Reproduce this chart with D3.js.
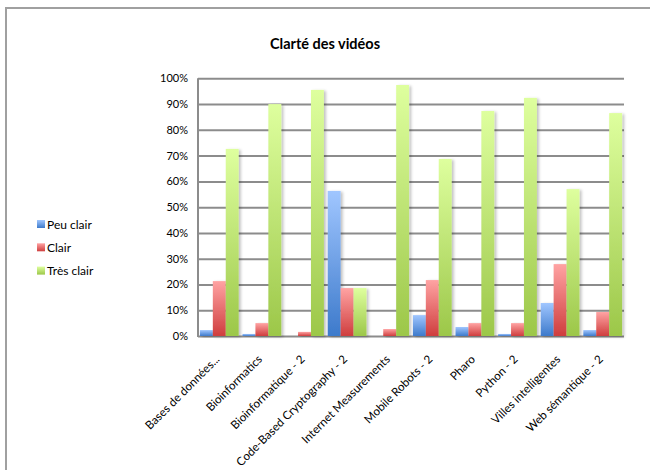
<!DOCTYPE html>
<html><head><meta charset="utf-8">
<script src="https://cdn.jsdelivr.net/npm/d3@7"></script>
<style>body{margin:0;background:#fff;} svg{display:block;font-family:Lato,"Open Sans",sans-serif;}</style>
</head><body><svg id="c" width="650" height="470"></svg>
<script>
const categories = ["Bases de données...","Bioinformatics","Bioinformatique - 2","Code-Based Cryptography - 2","Internet Measurements","Mobile Robots - 2","Pharo","Python - 2","Villes intelligentes","Web sémantique - 2"];
const seriesNames = ["Peu clair","Clair","Très clair"];
const peuClair = [2.3,0.8,0,56.3,0,8.1,3.5,0.8,12.8,2.3];
const clair = [21.3,5,1.6,18.6,2.7,21.7,5,5,27.9,9.3];
const tresClair = [72.6,90,95.5,18.6,97.4,68.7,87.3,92.4,57,86.5];
const yTicks = [0,10,20,30,40,50,60,70,80,90,100];
const seriesValues = [peuClair, clair, tresClair];
const gradStops = [["#a0c6ff","#3d7acb"],["#ffa3a3","#cf3e3e"],["#deff9e","#9cc749"]];

const svg = d3.select("#c");
const defs = svg.append("defs");
gradStops.forEach((g,i)=>{
  const lg = defs.append("linearGradient").attr("id","g"+i).attr("x1",0).attr("y1",0).attr("x2",0).attr("y2",1);
  lg.append("stop").attr("offset","0%").attr("stop-color",g[0]);
  lg.append("stop").attr("offset","100%").attr("stop-color",g[1]);
});
const shadow = defs.append("filter").attr("id","sh").attr("x","-50%").attr("y","-10%").attr("width","200%").attr("height","130%");
shadow.append("feGaussianBlur").attr("in","SourceAlpha").attr("stdDeviation",1.5);
shadow.append("feOffset").attr("dx",2).attr("dy",1).attr("result","b");
shadow.append("feComponentTransfer").append("feFuncA").attr("type","linear").attr("slope",0.25);
const m = shadow.append("feMerge"); m.append("feMergeNode"); m.append("feMergeNode").attr("in","SourceGraphic");

// outer border
svg.append("rect").attr("x",6).attr("y",8).attr("width",700).attr("height",500)
  .attr("fill","none").attr("stroke","#a0a0a0").attr("stroke-width",2);

const pLeft=198,pRight=624,pTop=78.3,pBottom=336;
const x = d3.scaleBand().domain(categories).range([pLeft,pRight]).paddingInner(0).paddingOuter(0);
const y = d3.scaleLinear().domain([0,100]).range([pBottom,pTop]);
const xs = d3.scaleBand().domain(seriesNames).range([0,x.bandwidth()]).paddingInner(0).paddingOuter(0.148*1.0);

// title
svg.append("text").attr("x",325).attr("y",49).attr("text-anchor","middle")
  .attr("font-size",14.5).attr("font-weight","bold").attr("fill","#000").text("Clarté des vidéos");

// gridlines
const yAxis = d3.axisLeft(y).tickValues(yTicks).tickFormat(d=>d+"%").tickSize(-(pRight-pLeft)).tickPadding(10);
const ga = svg.append("g").attr("transform",`translate(${pLeft},0)`).call(yAxis);
ga.select(".domain").remove();
ga.selectAll(".tick line").attr("stroke","#8c8c8c").attr("stroke-width",2);
ga.selectAll(".tick text").attr("font-size",11).attr("fill","#000").attr("font-family","Lato,'Open Sans',sans-serif");
svg.append("line").attr("x1",pLeft).attr("x2",pLeft).attr("y1",pTop).attr("y2",pBottom+1)
  .attr("stroke","#8c8c8c").attr("stroke-width",2);

// bars
const rows = categories.map((c,i)=>({c, vals: seriesValues.map((s,j)=>({s:seriesNames[j],j,v:s[i]}))}));
const gg = svg.append("g").selectAll("g").data(rows).join("g").attr("transform",d=>`translate(${x(d.c)},0)`);
gg.selectAll("rect").data(d=>d.vals.filter(e=>e.v>0)).join("rect")
  .attr("x",d=>xs(d.s)).attr("width",xs.bandwidth())
  .attr("y",d=>y(d.v)).attr("height",d=>pBottom-y(d.v))
  .attr("fill",d=>`url(#g${d.j})`).attr("filter","url(#sh)");

// x labels
svg.append("g").selectAll("text").data(categories).join("text")
  .attr("transform",d=>`translate(${x(d)+x.bandwidth()/2+1},${pBottom+24}) rotate(-45)`)
  .attr("text-anchor","end").attr("font-size",11.6).attr("fill","#000").text(d=>d);

// legend
const lg = svg.append("g").selectAll("g").data(seriesNames).join("g")
  .attr("transform",(d,i)=>`translate(37,${224+i*23.3})`);
lg.append("rect").attr("x",0).attr("y",-4).attr("width",8).attr("height",8).attr("fill",(d,i)=>`url(#g${i})`);
lg.append("text").attr("x",10).attr("y",4.5).attr("font-size",12).attr("fill","#000").text(d=>d);
</script></body></html>
